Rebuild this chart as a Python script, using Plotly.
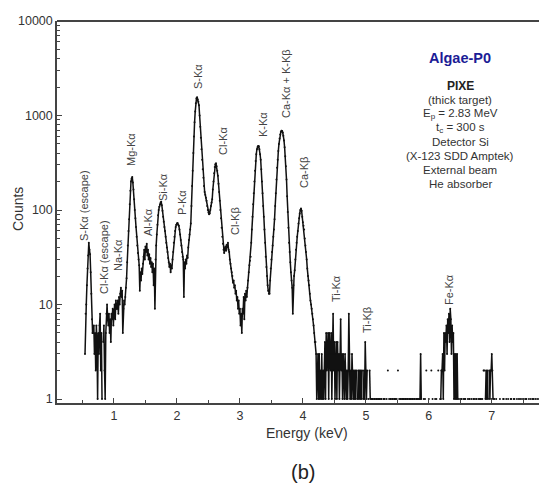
import plotly.graph_objects as go

# ---------------- data ----------------
channel_keV = 0.01  # channel width of the spectrum

# region 1: 0.54 - 1.19 keV (S-Ka escape, Cl-Ka escape, Na-Ka)
start_r1 = 0.54
counts_r1 = [3, 8, 10, 16, 24, 33, 45, 38, 34, 22, 13, 7, 5,
             5, 6, 3, 5, 2, 6, 4, 1, 5, 3, 6, 8, 2, 5, 1, 0, 4, 6, 2, 1, 5, 8,
             10, 7, 6, 8, 5, 7, 4, 8, 7, 9, 6, 8, 10, 7, 11, 9,
             9, 11, 8, 12, 10, 13, 15, 12, 14, 5, 9, 11, 10, 12, 15]
# region 2: 1.20 - 2.19 keV (Mg, Al, Si, P)
start_r2 = 1.20
counts_r2 = [19, 28, 42, 60, 80, 115, 160, 200, 215, 224,
             195, 165, 130, 100, 82, 66, 52, 42, 35, 30,
             26, 14, 22, 18, 24, 21, 27, 32, 38, 30,
             41, 36, 44, 33, 38, 30, 34, 27, 31, 25,
             28, 22, 27, 16, 24, 9, 30, 42, 55, 70,
             88, 100, 108, 115, 120, 122, 112, 98, 85, 75,
             66, 60, 52, 45, 40, 36, 31, 28, 25, 27,
             22, 26, 24, 30, 36, 45, 52, 60, 66, 70,
             72, 73, 70, 68, 62, 55, 48, 42, 36, 32,
             30, 12, 28, 24, 30, 27, 33, 31, 40, 48]
# region 3: 2.20 - 3.04 keV (S-Ka, Cl-Ka, Cl-Kb)
start_r3 = 2.20
counts_r3 = [55, 62, 72, 110, 180, 260, 400, 600, 850, 1100,
             1350, 1520, 1560, 1480, 1400, 1280, 1000, 760, 580, 440,
             340, 270, 220, 180, 155, 145, 135, 125, 110, 100,
             94, 90, 92, 100, 110, 120, 130, 165, 200, 245,
             285, 305, 312, 290, 260, 230, 190, 155, 125, 100,
             82, 65, 52, 44, 38, 35, 38, 41, 37, 43,
             40, 45, 38, 36, 30, 27, 24, 22, 20, 17,
             18, 15, 16, 13, 14, 11, 12, 9, 11, 8,
             9, 6, 8, 5, 9]
# region 4: 3.05 - 4.20 keV (K-Ka, Ca-Ka + K-Kb, Ca-Kb)
start_r4 = 3.05
counts_r4 = [8, 12, 7, 13, 11, 14, 12, 15, 18, 22,
             26, 29, 32, 45, 62, 85, 115, 150, 200, 260,
             330, 390, 440, 465, 476, 472, 440, 390, 340, 270,
             200, 150, 110, 85, 62, 45, 32, 25, 20, 16,
             14, 13, 13, 18, 24, 30, 36, 42, 52, 62,
             80, 110, 150, 210, 280, 340, 420, 500, 570, 630,
             670, 690, 685, 660, 610, 545, 460, 370, 290, 210,
             140, 95, 65, 45, 36, 28, 22, 18, 15, 8,
             16, 20, 23, 30, 38, 45, 52, 60, 72, 82,
             92, 100, 104, 98, 85, 74, 68, 62, 50, 42,
             36, 30, 24, 20, 18, 16, 13, 11, 10, 9,
             8, 7, 6, 5, 4, 4]
# region 5: 4.21 - 5.10 keV (Ti-Ka, Ti-Kb); 0 = empty channel
start_r5 = 4.21
counts_r5 = [3, 1, 2, 3, 1, 3, 1, 2, 1, 3,
             1, 2, 1, 2, 4, 1, 5, 2, 4, 5,
             1, 5, 3, 2, 5, 1, 3, 8, 2, 4,
             1, 3, 4, 1, 4, 2, 3, 1, 3, 7,
             2, 3, 1, 3, 2, 1, 3, 2, 1, 2,
             1, 2, 8, 3, 1, 2, 1, 3, 2, 1,
             2, 1, 2, 1, 2, 0, 1, 2, 1, 2,
             1, 2, 1, 2, 0, 1, 2, 1, 4, 2,
             1, 2, 0, 1, 0, 2, 1, 0, 1, 1]
# region 6: 5.11 - 7.75 keV (Fe-Ka); 0 = empty channel
start_r6 = 5.11
counts_r6 = [1, 0, 1, 1, 0, 1, 1, 1, 0, 1,
             1, 1, 0, 1, 1, 0, 0, 1, 1, 1,
             0, 0, 1, 0, 2, 0, 1, 0, 1, 1,
             0, 1, 1, 0, 1, 1, 1, 0, 1, 0,
             2, 0, 1, 0, 1, 1, 0, 1, 1, 1,
             0, 1, 1, 1, 0, 1, 1, 0, 1, 1,
             1, 0, 1, 1, 1, 0, 1, 1, 0, 1,
             1, 1, 0, 1, 1, 1, 3, 1, 0, 0,
             0, 1, 0, 1, 0, 2, 0, 0, 0, 1,
             0, 0, 0, 2, 0, 1, 0, 0, 0, 1,
             0, 1, 0, 0, 2, 0, 0, 1, 1, 2,
             2, 3, 1, 5, 2, 5, 4, 6, 3, 7,
             5, 8, 4, 9, 7, 3, 6, 4, 5, 1,
             3, 1, 3, 1, 3, 1, 0, 1, 0, 0,
             1, 1, 0, 0, 1, 0, 1, 1, 0, 0,
             0, 1, 0, 1, 1, 0, 0, 1, 0, 0,
             1, 1, 0, 0, 1, 1, 0, 0, 1, 0,
             1, 1, 1, 0, 1, 0, 2, 2, 0, 1,
             2, 1, 2, 1, 0, 2, 1, 2, 2, 3,
             2, 1, 0, 1, 0, 0, 1, 0, 0, 0,
             0, 0, 1, 0, 0, 0, 0, 1, 1, 0,
             0, 0, 1, 0, 0, 1, 0, 0, 0, 1,
             1, 0, 0, 0, 1, 1, 0, 0, 0, 1,
             0, 0, 1, 0, 1, 0, 0, 1, 0, 0,
             1, 0, 0, 1, 1, 0, 0, 0, 1, 0,
             0, 1, 0, 0, 1, 1, 0, 0, 1, 0,
             0, 1, 0, 0, 1]

regions = [(start_r1, counts_r1), (start_r2, counts_r2), (start_r3, counts_r3),
           (start_r4, counts_r4), (start_r5, counts_r5), (start_r6, counts_r6)]

peak_labels = ["S-Kα (escape)", "Cl-Kα (escape)", "Na-Kα", "Mg-Kα", "Al-Kα",
               "Si-Kα", "P-Kα", "S-Kα", "Cl-Kα", "Cl-Kβ", "K-Kα",
               "Ca-Kα + K-Kβ", "Ca-Kβ", "Ti-Kα", "Ti-Kβ", "Fe-Kα"]

x_ticks = [1, 2, 3, 4, 5, 6, 7]
x_minor = [0.5, 1.5, 2.5, 3.5, 4.5, 5.5, 6.5, 7.5]
y_ticks = [1, 10, 100, 1000, 10000]
y_ticktext = ["1", "10", "100", "1000", "10000"]
y_minor = [m * d for d in (1, 10, 100, 1000) for m in range(2, 10)]

info_lines = ["(thick target)", "E<sub>p</sub> = 2.83 MeV", "t<sub>c</sub> = 300 s",
              "Detector Si", "(X-123 SDD Amptek)", "External beam", "He absorber"]

# ---------------- assemble spectrum ----------------
energy, counts = [], []
for start, vals in regions:
    for i, v in enumerate(vals):
        energy.append(round(start + i * channel_keV, 3))
        counts.append(v if v > 0 else None)

W, H = 539, 486
L, R, T, B = 57, 0, 21, 83
pw, ph = W - L - R, H - T - B


def paper(px, py):
    return (px - L) / pw, (H - B - py) / ph


FONT = "Liberation Sans, Arial, sans-serif"

fig = go.Figure()
fig.add_trace(go.Scatter(
    x=energy, y=counts, mode="lines+markers",
    line=dict(color="#111111", width=1.5),
    marker=dict(color="#111111", size=2),
    connectgaps=False, hoverinfo="skip", showlegend=False))

annotations = []
label_px = [(84, 206), (104, 257), (118, 255), (131, 150), (148, 222), (163, 187),
            (182, 203), (198, 77), (223, 141), (235, 221), (263, 125), (286, 84),
            (304, 173), (336, 289), (367, 320), (449, 290)]
for txt, (px, py) in zip(peak_labels, label_px):
    ax_, ay_ = paper(px, py)
    annotations.append(dict(text=txt, x=ax_, y=ay_, xref="paper", yref="paper",
                            textangle=-90, showarrow=False, xanchor="center",
                            yanchor="middle", font=dict(family=FONT, size=11, color="#444444")))

# info box
x0, y0 = paper(460, 58)
annotations.append(dict(text="<b>Algae-P0</b>", x=x0, y=y0, xref="paper", yref="paper",
                        xanchor="center", yanchor="middle",
                        showarrow=False, font=dict(family=FONT, size=14.5, color="#1c1c96")))
x0, y0 = paper(460, 86)
annotations.append(dict(text="<b>PIXE</b>", x=x0, y=y0, xref="paper", yref="paper",
                        xanchor="center", yanchor="middle",
                        showarrow=False, font=dict(family=FONT, size=12, color="#222222")))
for k, line in enumerate(info_lines):
    x0, y0 = paper(460, 100 + 14 * k)
    annotations.append(dict(text=line, x=x0, y=y0, xref="paper", yref="paper",
                            xanchor="center", yanchor="middle",
                            showarrow=False, font=dict(family=FONT, size=11.5, color="#333333")))

# axis titles and panel label
x0, y0 = paper(18, 209)
annotations.append(dict(text="Counts", x=x0, y=y0, xref="paper", yref="paper", textangle=-90,
                        xanchor="center", yanchor="middle",
                        showarrow=False, font=dict(family=FONT, size=14, color="#333333")))
x0, y0 = paper(307, 433)
annotations.append(dict(text="Energy (keV)", x=x0, y=y0, xref="paper", yref="paper",
                        xanchor="center", yanchor="middle",
                        showarrow=False, font=dict(family=FONT, size=14, color="#333333")))
x0, y0 = paper(303, 472)
annotations.append(dict(text="(b)", x=x0, y=y0, xref="paper", yref="paper",
                        xanchor="center", yanchor="middle",
                        showarrow=False, font=dict(family=FONT, size=20, color="#222222")))

fig.update_layout(
    width=W, height=H,
    margin=dict(l=L, r=R, t=T, b=B, pad=0),
    paper_bgcolor="white", plot_bgcolor="white",
    font=dict(family=FONT, size=12.5, color="#333333"),
    annotations=annotations,
    shapes=[dict(type="line", xref="paper", yref="paper", x0=0, x1=1, y0=1, y1=1,
                 line=dict(color="#444444", width=2))],
    xaxis=dict(range=[0.095, 7.75], showgrid=False, zeroline=False,
               showline=True, linecolor="#444444", linewidth=1.5,
               ticks="inside", ticklen=5, tickwidth=1.2, tickcolor="#444444",
               tickvals=x_ticks, ticktext=[str(v) for v in x_ticks],
               minor=dict(tickvals=x_minor, ticks="inside", ticklen=3,
                          tickwidth=1.2, tickcolor="#444444"),
               tickfont=dict(size=12.5, color="#333333")),
    yaxis=dict(type="log", range=[-0.0423, 4], showgrid=False, zeroline=False,
               showline=True, linecolor="#444444", linewidth=1.5,
               ticks="inside", ticklen=5, tickwidth=1.2, tickcolor="#444444",
               tickvals=y_ticks, ticktext=y_ticktext,
               minor=dict(tickvals=y_minor, ticks="inside", ticklen=3,
                          tickwidth=1.0, tickcolor="#444444"),
               tickfont=dict(size=12.5, color="#333333")),
)

fig.write_html("out.html", config={"displayModeBar": False},
               post_script="document.body.style.margin='0';document.body.style.padding='0';"
                           "document.body.style.overflow='hidden';")
